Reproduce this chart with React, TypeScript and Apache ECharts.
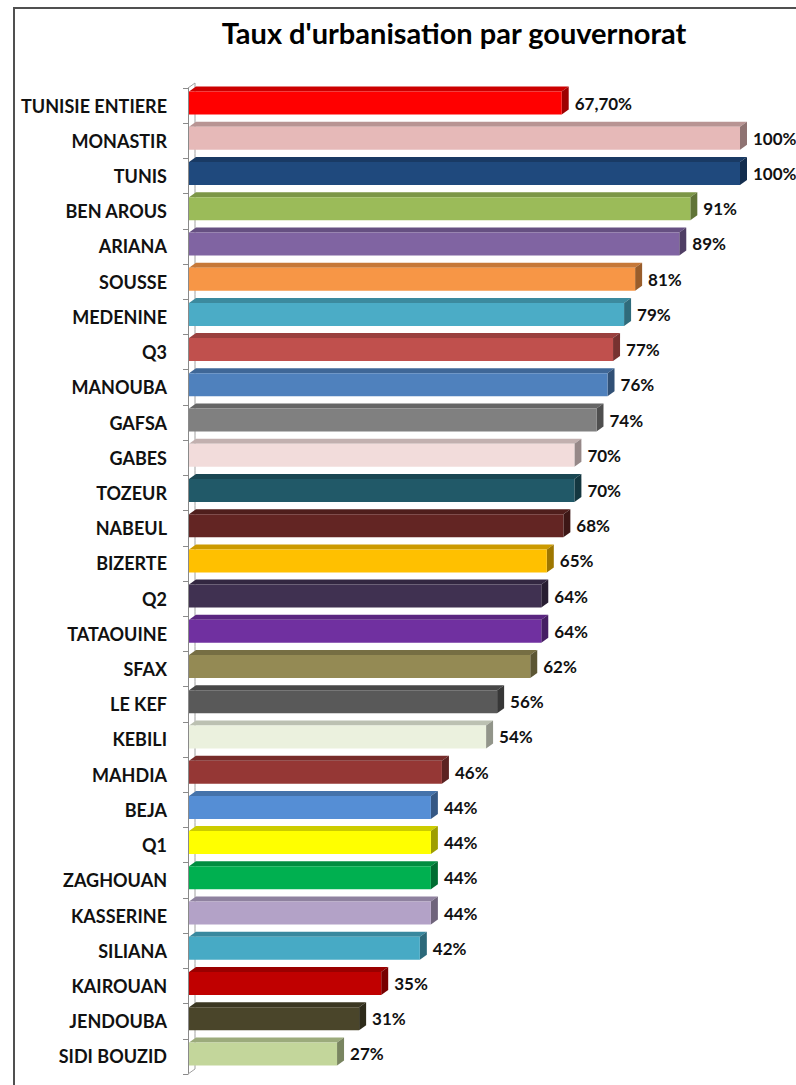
import React, { useEffect, useRef } from "react";
import * as echarts from "echarts";

const TITLE = "Taux d'urbanisation par gouvernorat";

const categories = [
  "TUNISIE ENTIERE", "MONASTIR", "TUNIS", "BEN AROUS", "ARIANA", "SOUSSE", "MEDENINE",
  "Q3", "MANOUBA", "GAFSA", "GABES", "TOZEUR", "NABEUL", "BIZERTE", "Q2", "TATAOUINE",
  "SFAX", "LE KEF", "KEBILI", "MAHDIA", "BEJA", "Q1", "ZAGHOUAN", "KASSERINE",
  "SILIANA", "KAIROUAN", "JENDOUBA", "SIDI BOUZID",
];

const values = [
  67.7, 100, 100, 91, 89, 81, 79, 77, 76, 74, 70, 70, 68, 65, 64, 64, 62, 56, 54, 46,
  44, 44, 44, 44, 42, 35, 31, 27,
];

const colors = [
  "#FF0000", "#E6B9B8", "#1F497D", "#9BBB59", "#8064A2", "#F79646", "#4BACC6",
  "#C0504D", "#4F81BD", "#808080", "#F2DCDB", "#215968", "#632523", "#FFC000",
  "#403151", "#7030A0", "#948A54", "#595959", "#EBF1DE", "#953735", "#558ED5",
  "#FFFF00", "#00B050", "#B3A2C7", "#47AAC5", "#C00000", "#4A452A", "#C3D69B",
];

function shade(hex: string, f: number): string {
  const n = parseInt(hex.slice(1), 16);
  const r = Math.round(((n >> 16) & 255) * f);
  const g = Math.round(((n >> 8) & 255) * f);
  const b = Math.round((n & 255) * f);
  return `rgb(${r},${g},${b})`;
}

function fmt(v: number): string {
  return Number.isInteger(v) ? `${v}%` : `${v.toFixed(2).replace(".", ",")}%`;
}

const FONT = "Lato";
const DX = 7;
const DY = 5;

export default function App() {
  const ref = useRef<HTMLDivElement>(null);
  useEffect(() => {
    if (!ref.current) return;
    const chart = echarts.init(ref.current, null, { renderer: "svg" });
    const data = values.map((v, i) => [v, i]);
    chart.setOption({
      animation: false,
      backgroundColor: "#ffffff",
      title: {
        text: TITLE,
        left: 449,
        top: 13,
        textAlign: "center",
        textStyle: { fontFamily: FONT, fontWeight: "bold", fontSize: 29, color: "#000" },
      },
      graphic: [
        {
          type: "polyline",
          shape: { points: [[14, 1100], [14, 8], [820, 8]] },
          style: { stroke: "#505050", lineWidth: 2, fill: "none" },
          silent: true,
        },
      ],
      grid: { left: 188, right: 56, top: 88, bottom: 11, containLabel: false },
      xAxis: { type: "value", min: 0, max: 100, show: false },
      yAxis: {
        type: "category",
        data: categories,
        inverse: true,
        axisLine: { show: true, lineStyle: { color: "#8a8a8a", width: 1 } },
        axisTick: { show: true, length: 5, lineStyle: { color: "#8a8a8a" } },
        axisLabel: {
          margin: 21,
          fontFamily: FONT,
          fontWeight: "bold",
          fontSize: 18,
          color: "#111",
        },
        splitLine: { show: false },
      },
      series: [
        {
          type: "custom",
          z: 1,
          data,
          encode: { x: 0, y: 1 },
          renderItem: (params: any, api: any) => {
            const idx = api.value(1);
            const s = api.coord([0, idx]);
            const band = api.size([0, 1])[1];
            const x = s[0] + DX;
            const y0 = s[1] - band / 2 - DY;
            const y1 = s[1] + band / 2 - DY;
            const children: any[] = [
              { type: "line", shape: { x1: x, y1: y0, x2: x, y2: y1 }, style: { stroke: "#a0a0a0", lineWidth: 1 } },
            ];
            if (idx === 0) {
              children.push({ type: "line", shape: { x1: s[0], y1: y0 + DY, x2: x, y2: y0 }, style: { stroke: "#a0a0a0", lineWidth: 1 } });
            }
            if (idx === categories.length - 1) {
              children.push({ type: "line", shape: { x1: s[0], y1: y1 + DY, x2: x, y2: y1 }, style: { stroke: "#a0a0a0", lineWidth: 1 } });
            }
            return { type: "group", children };
          },
        },
        {
          type: "custom",
          z: 2,
          data,
          encode: { x: 0, y: 1 },
          renderItem: (params: any, api: any) => {
            const v = api.value(0);
            const idx = api.value(1);
            const s = api.coord([0, idx]);
            const e = api.coord([v, idx]);
            const c = s[1];
            const top = c - 14;
            const bot = c + 9;
            const x0 = s[0] + 1;
            const x1 = e[0];
            const col = colors[idx];
            return {
              type: "group",
              children: [
                {
                  type: "polygon",
                  shape: { points: [[x0, top], [x0 + DX, top - DY], [x1 + DX, top - DY], [x1, top]] },
                  style: { fill: shade(col, 0.8) },
                },
                {
                  type: "polygon",
                  shape: { points: [[x1, top], [x1 + DX, top - DY], [x1 + DX, bot - DY], [x1, bot]] },
                  style: { fill: shade(col, 0.62) },
                },
                {
                  type: "rect",
                  shape: { x: x0, y: top, width: x1 - x0, height: bot - top },
                  style: { fill: col },
                },
                {
                  type: "text",
                  style: {
                    text: fmt(v),
                    x: x1 + DX + 6,
                    y: (top + bot) / 2,
                    verticalAlign: "middle",
                    align: "left",
                    fontFamily: FONT,
                    fontWeight: "bold",
                    fontSize: 17,
                    fill: "#111",
                  },
                },
              ],
            };
          },
        },
      ],
    });
    return () => chart.dispose();
  }, []);
  return (
    <div
      ref={ref}
      style={{ position: "absolute", left: 0, top: 0, width: 796, height: 1085 }}
    />
  );
}
